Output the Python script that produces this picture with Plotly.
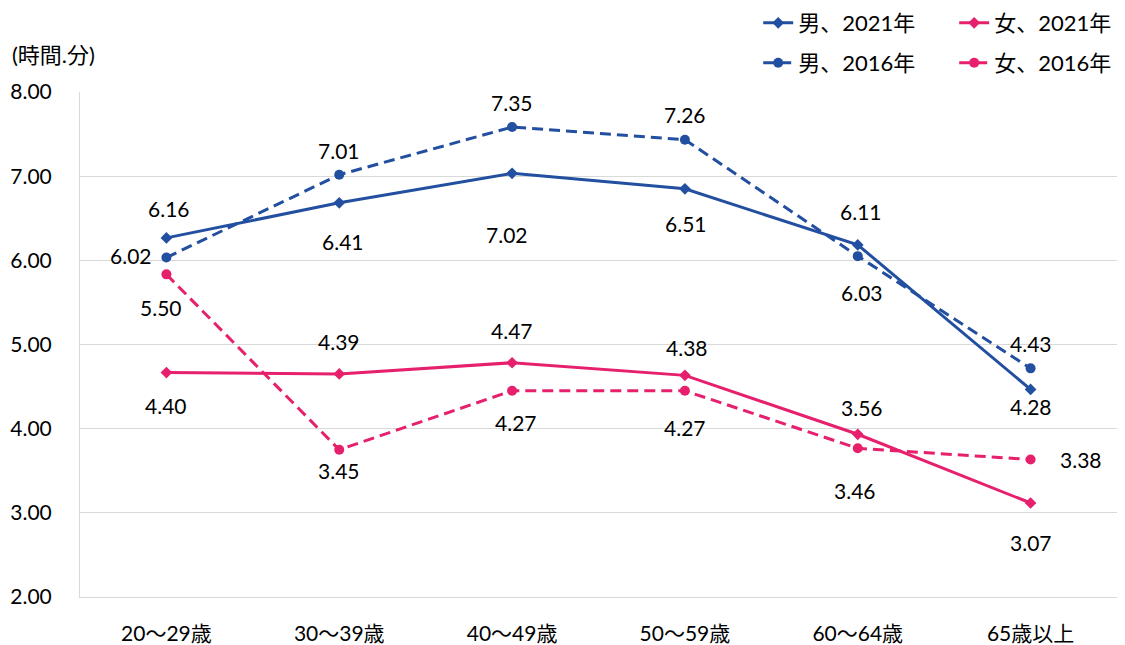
import plotly.graph_objects as go

# ---- data (values are hours.minutes as printed on the chart) ----
categories = ["20〜29歳", "30〜39歳", "40〜49歳", "50〜59歳", "60〜64歳", "65歳以上"]
male_2021 = [6.16, 6.41, 7.02, 6.51, 6.11, 4.28]
female_2021 = [4.40, 4.39, 4.47, 4.38, 3.56, 3.07]
male_2016 = [6.02, 7.01, 7.35, 7.26, 6.03, 4.43]
female_2016 = [5.50, 3.45, 4.27, 4.27, 3.46, 3.38]
y_ticks = [2, 3, 4, 5, 6, 7, 8]


def hm_to_hours(v):
    h = int(round(v * 100)) // 100
    m = int(round(v * 100)) % 100
    return h + m / 60.0


BLUE = "#234FA0"
PINK = "#E6206C"
FONT = "Lato, Noto Sans CJK JP, sans-serif"
FS = 21
LEG_FS = 22

# label offsets (pixels: xshift, yshift) per series, styling only
off_m21 = [(3, 29), (4, -39), (-5, -61), (1, -35), (3, 33), (0, -17)]
off_f21 = [(0, -33), (0, 32), (0, 32), (2, 28), (4, 27), (0, -39)]
off_m16 = [(-35, 2), (0, 24), (0, 25), (0, 25), (4, -36), (0, 25)]
off_f16 = [(-5, -33), (0, -21), (4, -32), (0, -37), (-3, -42), (50, 0)]

# legend slot for each series (x, y in paper coords), styling only
leg_pos = {
    "legend": (0.654, 1.1366),
    "legend2": (0.843, 1.1366),
    "legend3": (0.654, 1.0574),
    "legend4": (0.843, 1.0574),
}

series = [
    ("男、2021年", male_2021, BLUE, "solid", "diamond", 9, "legend", off_m21),
    ("女、2021年", female_2021, PINK, "solid", "diamond", 9, "legend2", off_f21),
    ("男、2016年", male_2016, BLUE, "11px,6px", "circle", 10, "legend3", off_m16),
    ("女、2016年", female_2016, PINK, "11px,6px", "circle", 10, "legend4", off_f16),
]

fig = go.Figure()
annotations = []
for name, vals, color, dash, sym, msize, leg, offs in series:
    ys = [hm_to_hours(v) for v in vals]
    fig.add_trace(go.Scatter(
        x=categories, y=ys, name=name, mode="lines+markers",
        line=dict(color=color, width=3, dash=dash),
        marker=dict(symbol=sym, size=msize, color=color),
        legend=leg, showlegend=True,
    ))
    for c, v, yv, (dx, dy) in zip(categories, vals, ys, offs):
        annotations.append(dict(
            x=c, y=yv, xref="x", yref="y", text=f"{v:.2f}", showarrow=False,
            xshift=dx, yshift=dy, font=dict(family=FONT, size=FS, color="#000000"),
        ))

annotations.append(dict(
    x=-0.0675, y=1.0733, xref="paper", yref="paper", xanchor="left", yanchor="middle",
    text="(時間.分)", showarrow=False,
    font=dict(family=FONT, size=22, color="#000000"),
))

legends = {}
for key, (lx, ly) in leg_pos.items():
    legends[key] = dict(
        orientation="h", x=lx, y=ly, xanchor="left", yanchor="middle",
        font=dict(family=FONT, size=LEG_FS, color="#000000"),
        bgcolor="rgba(0,0,0,0)",
    )

fig.update_layout(
    width=1117, height=637,
    margin=dict(l=72, r=8, t=84, b=48, autoexpand=False),
    paper_bgcolor="white", plot_bgcolor="white",
    font=dict(family=FONT, size=FS, color="#000000"),
    annotations=annotations,
    showlegend=True,
    **legends,
)

fig.update_xaxes(
    range=[-0.5, len(categories) - 0.5],
    showgrid=False, showline=True, linecolor="#D9D9D9", linewidth=1,
    ticks="", ticklabelstandoff=18, automargin=False,
    tickfont=dict(family=FONT, size=FS, color="#000000"),
)
fig.update_yaxes(
    range=[2, 8], tickvals=y_ticks, tickformat=".2f",
    showgrid=True, gridcolor="#D9D9D9", gridwidth=1,
    showline=True, linecolor="#D9D9D9", linewidth=1, zeroline=False,
    ticks="", ticklabelstandoff=23, automargin=False,
    tickfont=dict(family=FONT, size=FS, color="#000000"),
)

fig.write_html("out.html")
